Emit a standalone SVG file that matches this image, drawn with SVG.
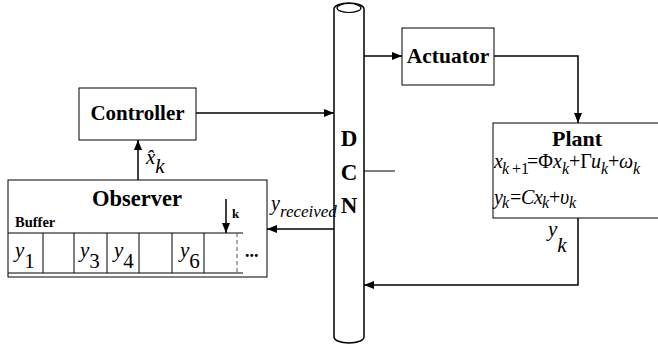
<svg xmlns="http://www.w3.org/2000/svg" width="658" height="347" viewBox="0 0 658 347">
<defs>
<marker id="ah" markerWidth="10" markerHeight="8" refX="10" refY="4" orient="auto" markerUnits="userSpaceOnUse">
<path d="M0,0 L10,4 L0,8 Z" fill="#000"/>
</marker>
<style>
.box{fill:#fff;stroke:#000;stroke-width:1}
.ln{fill:none;stroke:#000;stroke-width:1.5}
.lb{font-family:"Liberation Serif","Times New Roman",serif;font-weight:bold;fill:#000}
.it{font-family:"Liberation Serif","Times New Roman",serif;font-style:italic;fill:#000}
.up{font-family:"Liberation Serif","Times New Roman",serif;font-style:normal;fill:#000}
.sb{font-size:16px}
</style>
</defs>
<rect width="658" height="347" fill="#fff"/>
<g id="dcn">
<path d="M334,9 A15,6 0 0 1 364,9 L364,337 A15,6 0 0 1 334,337 Z" fill="#fff" stroke="#000" stroke-width="1.5"/>
<ellipse cx="349" cy="8" rx="12" ry="4.5" fill="#fff" stroke="#000" stroke-width="1.2"/>
<text class="lb" x="349" y="146" font-size="23" text-anchor="middle">D</text>
<text class="lb" x="349" y="180" font-size="23" text-anchor="middle">C</text>
<text class="lb" x="349" y="213" font-size="23" text-anchor="middle">N</text>
</g>
<g id="actuator">
<rect class="box" x="402" y="28" width="92" height="57"/>
<text class="lb" x="448" y="63" font-size="21.5" text-anchor="middle">Actuator</text>
</g>
<g id="plant">
<rect class="box" x="493" y="123" width="170" height="95"/>
<text class="lb" x="577" y="146" font-size="22" text-anchor="middle">Plant</text>
<text font-size="20">
<tspan class="it" x="494" y="168">x</tspan><tspan class="it sb" x="502" y="174">k</tspan><tspan class="up sb" x="512" y="174">+1</tspan><tspan class="up" x="527" y="168">=Φ</tspan><tspan class="it" x="553" y="168">x</tspan><tspan class="it sb" x="562" y="174">k</tspan><tspan class="up" x="569" y="168">+Γ</tspan><tspan class="it" x="591" y="168">u</tspan><tspan class="it sb" x="601" y="174">k</tspan><tspan class="up" x="608" y="168">+</tspan><tspan class="it" x="619" y="168">ω</tspan><tspan class="it sb" x="633" y="174">k</tspan>
</text>
<text font-size="20">
<tspan class="it" x="494" y="204">y</tspan><tspan class="it sb" x="502" y="208">k</tspan><tspan class="up" x="510" y="204">=</tspan><tspan class="it" x="521" y="204">C</tspan><tspan class="it" x="534" y="204">x</tspan><tspan class="it sb" x="542" y="208">k</tspan><tspan class="up" x="549" y="204">+</tspan><tspan class="it" x="560" y="204">υ</tspan><tspan class="it sb" x="569" y="208">k</tspan>
</text>
</g>
<g id="controller">
<rect class="box" x="79" y="88" width="117" height="52"/>
<text class="lb" x="137.5" y="120" font-size="21" text-anchor="middle">Controller</text>
</g>
<g id="observer">
<rect class="box" x="8" y="180" width="259" height="97"/>
<text class="lb" x="137" y="206" font-size="22.5" text-anchor="middle">Observer</text>
<text class="lb" x="15" y="227" font-size="14.5">Buffer</text>
<text class="lb" x="232" y="218" font-size="13">k</text>
<line class="ln" x1="226" y1="199" x2="226" y2="233" marker-end="url(#ah)"/>
<path d="M8,233 H243 M8,273 H243" fill="none" stroke="#000" stroke-width="1"/>
<path d="M43,233 V273 M74,233 V273 M107,233 V273 M139,233 V273 M172,233 V273 M204,233 V273" fill="none" stroke="#000" stroke-width="1"/>
<line x1="237" y1="233" x2="237" y2="273" stroke="#555" stroke-width="1" stroke-dasharray="4,3"/>
<text class="lb" x="245" y="257" font-size="18">...</text>
<text class="it" x="15" y="257" font-size="21">y<tspan class="up" dy="11">1</tspan></text>
<text class="it" x="80" y="257" font-size="21">y<tspan class="up" dy="11">3</tspan></text>
<text class="it" x="114" y="257" font-size="21">y<tspan class="up" dy="11">4</tspan></text>
<text class="it" x="180" y="257" font-size="21">y<tspan class="up" dy="11">6</tspan></text>
</g>
<g id="connectors">
<line class="ln" x1="364" y1="56" x2="402" y2="56" marker-end="url(#ah)"/>
<polyline class="ln" points="494,56 578,56 578,123" marker-end="url(#ah)"/>
<line class="ln" x1="196" y1="113" x2="334" y2="113" marker-end="url(#ah)"/>
<line class="ln" x1="138" y1="180" x2="138" y2="140" marker-end="url(#ah)"/>
<line class="ln" x1="334" y1="229" x2="267" y2="229" marker-end="url(#ah)"/>
<polyline class="ln" points="578,218 578,285 364,285" marker-end="url(#ah)"/>
<line x1="364" y1="171" x2="395" y2="171" stroke="#000" stroke-width="1"/>
</g>
<g id="labels">
<text class="it" x="146" y="164" font-size="21">x̂<tspan dy="9">k</tspan></text>
<text class="it" x="271" y="210" font-size="20">y<tspan dy="7" font-size="17">received</tspan></text>
<text class="it" x="548" y="236" font-size="21">y<tspan dy="16">k</tspan></text>
</g>
</svg>
